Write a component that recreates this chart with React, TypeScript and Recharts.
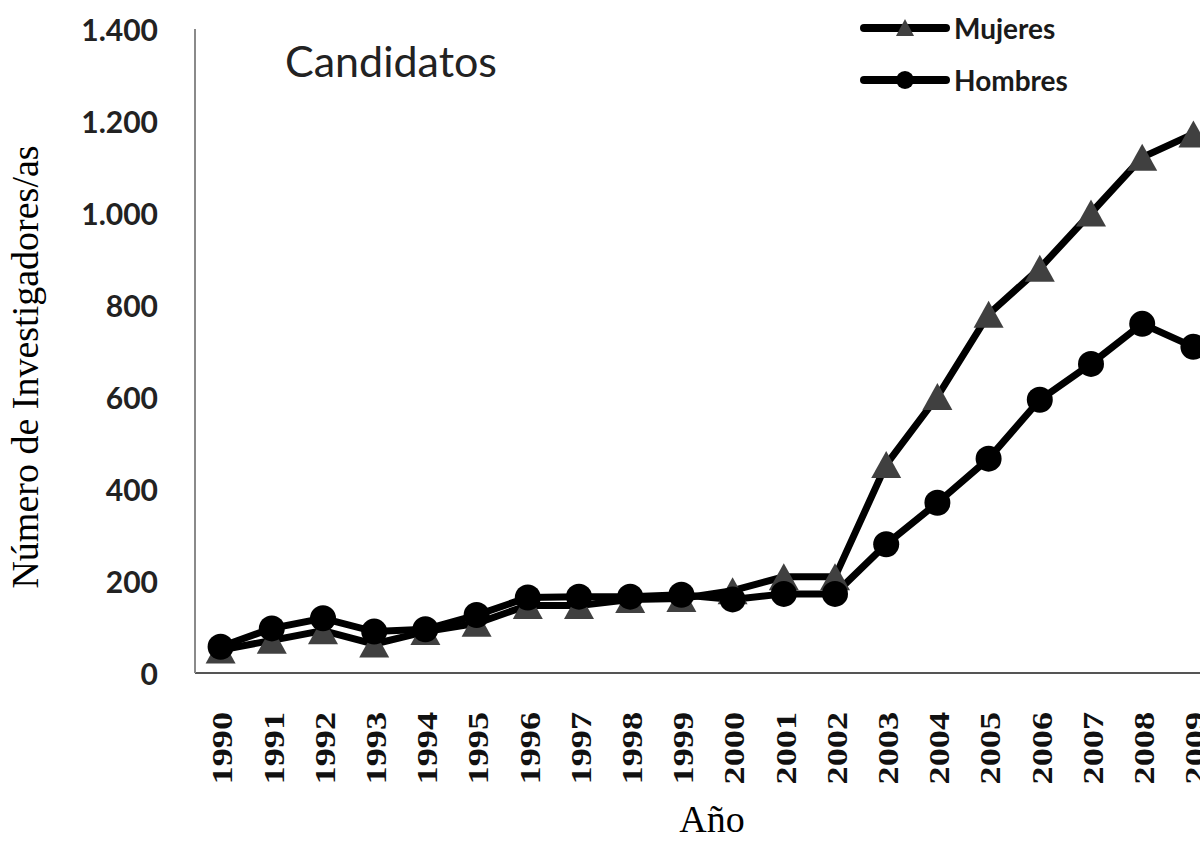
import { LineChart, Line, XAxis, YAxis } from 'recharts';

const years = ['1990', '1991', '1992', '1993', '1994', '1995', '1996', '1997', '1998', '1999',
  '2000', '2001', '2002', '2003', '2004', '2005', '2006', '2007', '2008', '2009'];
const mujeres = [50, 71, 92, 63, 90, 108, 147, 147, 160, 162, 179, 209, 209, 453, 601, 780, 880, 1000, 1121, 1172];
const hombres = [57, 97, 119, 90, 95, 126, 164, 166, 166, 170, 160, 172, 172, 280, 370, 466, 594, 672, 759, 709];
const yTicks = [0, 200, 400, 600, 800, 1000, 1200, 1400];

const data = years.map((year, i) => ({ year, mujeres: mujeres[i], hombres: hombres[i] }));

const SANS = 'Lato, "Open Sans", sans-serif';
const SERIF = '"Liberation Serif", "Times New Roman", serif';

// 1400 -> "1.400"
const fmt = (v: number) => String(v).replace(/\B(?=(\d{3})+(?!\d))/g, '.');

const Triangle = (props: any) => {
  const { cx, cy, index } = props;
  if (cx == null || cy == null) return null;
  const w = 30, h = 27;
  return (
    <polygon
      key={`tri-${index}`}
      points={`${cx},${cy - h / 2} ${cx + w / 2},${cy + h / 2} ${cx - w / 2},${cy + h / 2}`}
      fill="#404040"
    />
  );
};

const Circle = (props: any) => {
  const { cx, cy, index } = props;
  if (cx == null || cy == null) return null;
  return <circle key={`dot-${index}`} cx={cx} cy={cy} r={13} fill="#000" />;
};

const YTick = (props: any) => {
  const { x, y, payload } = props;
  return (
    <text x={x - 29} y={y} textAnchor="end" dominantBaseline="central"
      style={{ fontFamily: SANS, fontSize: 30, fontWeight: 700, fill: '#222' }}>
      {fmt(payload.value)}
    </text>
  );
};

// year labels are drawn wide in the original, so stretch them along the baseline
const XTick = (props: any) => {
  const { x, y, payload } = props;
  return (
    <g transform={`translate(${x + 2},${y + 31})`}>
      <text transform="rotate(-90) scale(1.25,1)" textAnchor="end" dominantBaseline="central"
        style={{ fontFamily: SERIF, fontSize: 29, fontWeight: 700, fill: '#111' }}>
        {payload.value}
      </text>
    </g>
  );
};

const YTitle = (props: any) => {
  const { x, y, height } = props.viewBox;
  return (
    <text transform={`translate(${x + 25},${y + height / 2 + 16}) rotate(-90)`}
      textAnchor="middle" dominantBaseline="central"
      style={{ fontFamily: SERIF, fontSize: 38, fill: '#000' }}>
      Número de Investigadores/as
    </text>
  );
};

const XTitle = (props: any) => {
  const { x, y, width } = props.viewBox;
  return (
    <text x={x + width / 2 + 5} y={y + 159} textAnchor="middle"
      style={{ fontFamily: SERIF, fontSize: 38, fill: '#000' }}>
      Año
    </text>
  );
};

const legendRow = (label: string, marker: any, top: number) => (
  <div style={{ position: 'absolute', left: 858, top, height: 40, display: 'flex', alignItems: 'center' }}>
    <svg width={94} height={40}>
      <line x1={6} y1={20} x2={88} y2={20} stroke="#000" strokeWidth={8} strokeLinecap="round" />
      {marker}
    </svg>
    <span style={{ fontFamily: SANS, fontSize: 28, fontWeight: 700, color: '#1a1a1a', marginLeft: 2 }}>{label}</span>
  </div>
);

export default function App() {
  return (
    <div style={{ position: 'fixed', top: 0, left: 0, width: 1200, height: 842, overflow: 'hidden', background: '#fff' }}>
      <LineChart width={1220} height={842} data={data}
        margin={{ top: 29, right: 1, bottom: 0, left: 0 }}>
        <XAxis dataKey="year" height={169} padding={{ left: 25.6, right: 25.6 }}
          axisLine={{ stroke: '#555', strokeWidth: 2 }} tickLine={false}
          interval={0} tick={<XTick />} label={<XTitle />} />
        <YAxis width={195} domain={[0, 1400]} ticks={yTicks} interval={0}
          axisLine={{ stroke: '#8a8a8a', strokeWidth: 2 }} tickLine={false}
          tick={<YTick />} label={<YTitle />} />
        <Line dataKey="mujeres" name="Mujeres" stroke="#000" strokeWidth={7}
          dot={<Triangle />} activeDot={false} isAnimationActive={false} />
        <Line dataKey="hombres" name="Hombres" stroke="#000" strokeWidth={7}
          dot={<Circle />} activeDot={false} isAnimationActive={false} />
      </LineChart>
      <div style={{ position: 'absolute', left: 285, top: 39, fontFamily: SANS, fontSize: 43, color: '#222', lineHeight: 1 }}>
        Candidatos
      </div>
      {legendRow('Mujeres', <polygon points="47,11 56,28 38,28" fill="#404040" />, 8)}
      {legendRow('Hombres', <circle cx={47} cy={20} r={9} fill="#000" />, 60)}
    </div>
  );
}
